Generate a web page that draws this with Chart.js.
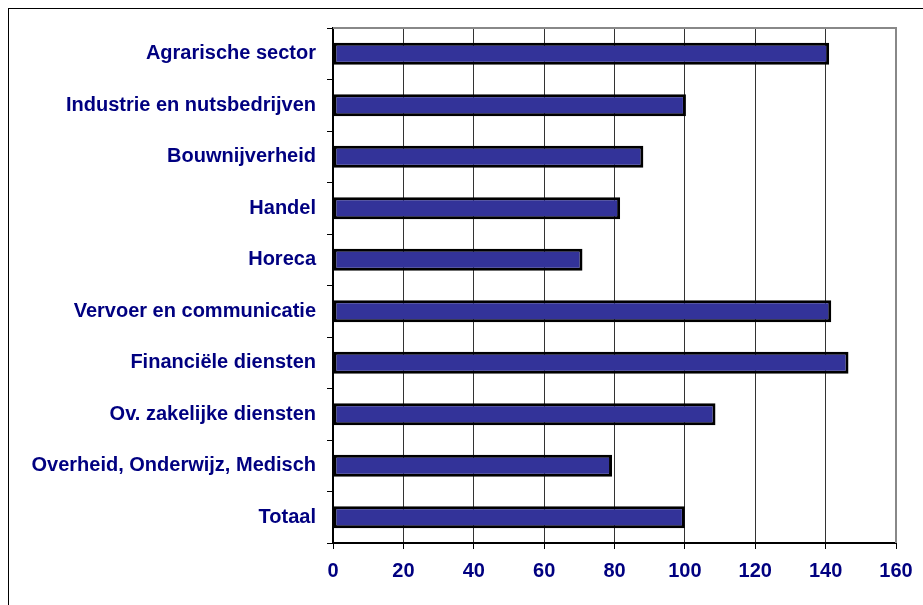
<!DOCTYPE html>
<html>
<head>
<meta charset="utf-8">
<script src="https://cdn.jsdelivr.net/npm/chart.js@4"></script>
<style>
  html, body { margin: 0; padding: 0; background: #fff; overflow: hidden; }
  #wrap { position: relative; width: 923px; height: 605px; }
  #frame { position: absolute; left: 8px; top: 8px; width: 1000px; height: 1000px; border-left: 1px solid #000; border-top: 1px solid #000; box-sizing: border-box; pointer-events: none; }
  canvas { position: absolute; left: 0; top: 0; }
</style>
</head>
<body>
<div id="wrap">
  <div id="frame"></div>
  <canvas id="chart" width="923" height="605"></canvas>
</div>
<script>
const sectors = [
  "Agrarische sector",
  "Industrie en nutsbedrijven",
  "Bouwnijverheid",
  "Handel",
  "Horeca",
  "Vervoer en communicatie",
  "Financiële diensten",
  "Ov. zakelijke diensten",
  "Overheid, Onderwijz, Medisch",
  "Totaal"
];
const values = [141, 100.3, 88.2, 81.6, 70.9, 141.6, 146.5, 108.7, 79.3, 100];
const xTicks = [0, 20, 40, 60, 80, 100, 120, 140, 160];

const navy = "#000080";
const labelFont = { family: "'Liberation Sans', Arial, sans-serif", size: 20, weight: "bold" };

// grey top and right edge of the plot area
const plotFrame = {
  id: "plotFrame",
  afterDraw(chart) {
    const { ctx, chartArea: a } = chart;
    ctx.save();
    ctx.strokeStyle = "#888";
    ctx.lineWidth = 2;
    ctx.beginPath();
    ctx.moveTo(a.left, a.top);
    ctx.lineTo(a.right, a.top);
    ctx.lineTo(a.right, a.bottom);
    ctx.stroke();
    ctx.restore();
  }
};

new Chart(document.getElementById("chart"), {
  type: "bar",
  data: {
    labels: sectors,
    datasets: [{
      data: values,
      backgroundColor: "#333399",
      borderColor: "#000",
      borderWidth: 3,
      borderSkipped: false,
      barPercentage: 0.43,
      categoryPercentage: 1
    }]
  },
  options: {
    indexAxis: "y",
    responsive: false,
    animation: false,
    layout: { padding: { top: 28, right: 27, left: 0, bottom: 0 } },
    plugins: { legend: { display: false }, tooltip: { enabled: false } },
    scales: {
      x: {
        min: 0,
        max: 160,
        afterBuildTicks(scale) {
          scale.ticks = xTicks.map((v) => ({ value: v }));
        },
        afterFit(scale) { scale.height = 62; },
        border: { color: "#000", width: 2 },
        grid: { color: "#333", lineWidth: 1, tickLength: 6, tickColor: "#000" },
        ticks: { color: navy, font: labelFont, padding: 10, maxRotation: 0 }
      },
      y: {
        afterFit(scale) { scale.width = 333; },
        border: { color: "#000", width: 2 },
        grid: { drawOnChartArea: false, tickLength: 6, color: "#000", offset: true },
        ticks: { color: navy, font: labelFont, padding: 11 }
      }
    }
  },
  plugins: [plotFrame]
});
</script>
</body>
</html>
